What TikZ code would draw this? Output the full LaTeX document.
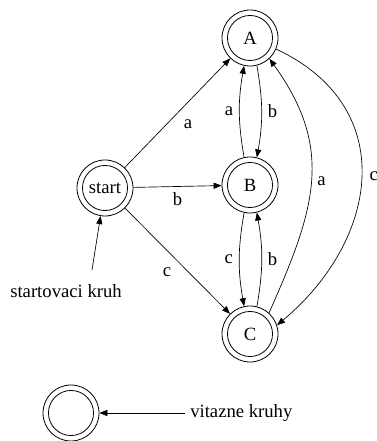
\documentclass[tikz,border=0pt]{standalone}
\usepackage{fontspec}
\setmainfont{Liberation Serif}
\usetikzlibrary{arrows.meta}
\begin{document}
\begin{tikzpicture}[x=0.75pt,y=0.75pt,
  every node/.style={font=\fontsize{14}{17}\selectfont},
  state/.style={circle,draw,line width=0.6pt,minimum size=42pt,inner sep=0pt,
    path picture={\draw[line width=0.6pt] (path picture bounding box.center) circle (16.9pt);}},
  edge/.style={line width=0.5pt,-{Triangle[length=6pt,width=4.6pt]}},
  lbl/.style={inner sep=4.5pt}]
\useasboundingbox (0,0) rectangle (376,441);
\node[state] (A) at (250,403) {A};
\node[state] (B) at (250,256) {B};
\node[state] (C) at (250,107) {C};
\node[state] (start) at (105,253) {start};
\node[state] (leg) at (71,28) {};
\node (skl) at (66,150) {startovaci kruh};
\coordinate (skt) at (92,171);
\node[anchor=west,inner xsep=3.75pt,inner ysep=0pt] (vk) at (185,28) {\strut vitazne kruhy};

\draw[edge] (start) -- node[lbl,pos=0.5,below right] {a} (A);
\draw[edge] (start) -- node[lbl,pos=0.5,below] {b} (B);
\draw[edge] (start) -- node[lbl,pos=0.5,below left] {c} (C);

\draw[edge] (B.102) to[bend left=10] node[lbl,left] {a} (A.258);
\draw[edge] (A.-76) to[bend left=10] node[lbl,right] {b} (B.76);
\draw[edge] (B.-102) to[bend right=10] node[lbl,left] {c} (C.102);
\draw[edge] (C.76) to[bend right=10] node[lbl,right] {b} (B.-76);

\draw[edge] (C.48) to[out=66,in=-54,looseness=1.13] node[lbl,right] {a} (A.-47);
\draw[edge] (A.-23) to[out=-25,in=40,looseness=1.25] node[lbl,right,xshift=1.5pt] {c} (C.18);

\draw[edge] (skt) -- (start);
\draw[edge] (vk.west) -- (leg);
\end{tikzpicture}
\end{document}
